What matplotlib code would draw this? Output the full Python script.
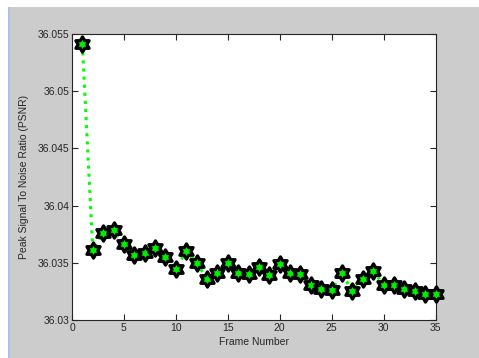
import numpy as np
import matplotlib
matplotlib.use('Agg')
import matplotlib.pyplot as plt
from matplotlib.path import Path
from matplotlib.markers import MarkerStyle
from matplotlib.patches import Rectangle

plt.rcParams['font.family'] = ['Liberation Sans', 'DejaVu Sans']

# PSNR per frame
frames = list(range(1, 36))
psnr = [36.0541, 36.0361, 36.0376, 36.0379, 36.0366, 36.0357, 36.0359, 36.0363,
        36.0355, 36.0345, 36.0360, 36.0350, 36.0336, 36.0341, 36.0350, 36.0341,
        36.0340, 36.0346, 36.0339, 36.0349, 36.0341, 36.0340, 36.0331, 36.0327,
        36.0326, 36.0341, 36.0325, 36.0336, 36.0343, 36.0331, 36.0331, 36.0327,
        36.0325, 36.0323, 36.0323]
xticks = [0, 5, 10, 15, 20, 25, 30, 35]
yticks = [36.03, 36.035, 36.04, 36.045, 36.05, 36.055]
yticklabels = ['36.03', '36.035', '36.04', '36.045', '36.05', '36.055']

# hexagram marker (two overlapping triangles)
ang = np.deg2rad(90 + 30 * np.arange(12))
rad = np.where(np.arange(12) % 2 == 0, 1.0, 1 / np.sqrt(3))
verts = np.column_stack([rad * np.cos(ang), rad * np.sin(ang)])
verts = np.vstack([verts, verts[:1]])
hexagram = MarkerStyle(Path(verts, [Path.MOVETO] + [Path.LINETO] * 11 + [Path.CLOSEPOLY]),
                       joinstyle='miter')

bg = '#cccccc'
fig = plt.figure(figsize=(4.79, 3.58), dpi=100, facecolor=bg)
# window frame strips
fig.patches.append(Rectangle((0, 1 - 7 / 358), 1, 7 / 358, transform=fig.transFigure,
                             facecolor='white', edgecolor='none', zorder=0))
fig.patches.append(Rectangle((0, 0), 8 / 479, 1, transform=fig.transFigure,
                             facecolor='white', edgecolor='none', zorder=0))
fig.patches.append(Rectangle((8 / 479, 0), 2 / 479, 1 - 7 / 358, transform=fig.transFigure,
                             facecolor='#a9c4e4', edgecolor='none', zorder=0))

ax = fig.add_axes([72 / 479, 38 / 358, 363.5 / 479, 286 / 358])
ax.set_facecolor('white')
ax.plot(frames, psnr, linestyle=':', color='#00ff00', linewidth=2.2, zorder=2)
ax.plot(frames, psnr, linestyle='none', marker=hexagram, markersize=11,
        markerfacecolor='#00ee00', markeredgecolor='black', markeredgewidth=2.3,
        zorder=3, clip_on=False)

ax.set_xlim(0, 35)
ax.set_ylim(36.03, 36.055)
ax.set_xticks(xticks)
ax.set_yticks(yticks)
ax.set_yticklabels(yticklabels)
ax.tick_params(direction='in', length=4, width=0.8, colors='#262626', labelsize=7.5,
               top=True, right=True, pad=2)
for s in ax.spines.values():
    s.set_color('#262626')
    s.set_linewidth(0.8)

ax.set_xlabel('Frame Number', fontsize=7.5, labelpad=3, color='#262626')
ax.set_ylabel('Peak Signal To Noise Ratio (PSNR)', fontsize=7.5, labelpad=6, color='#262626')

fig.savefig('out.png', dpi=100, facecolor=bg)
